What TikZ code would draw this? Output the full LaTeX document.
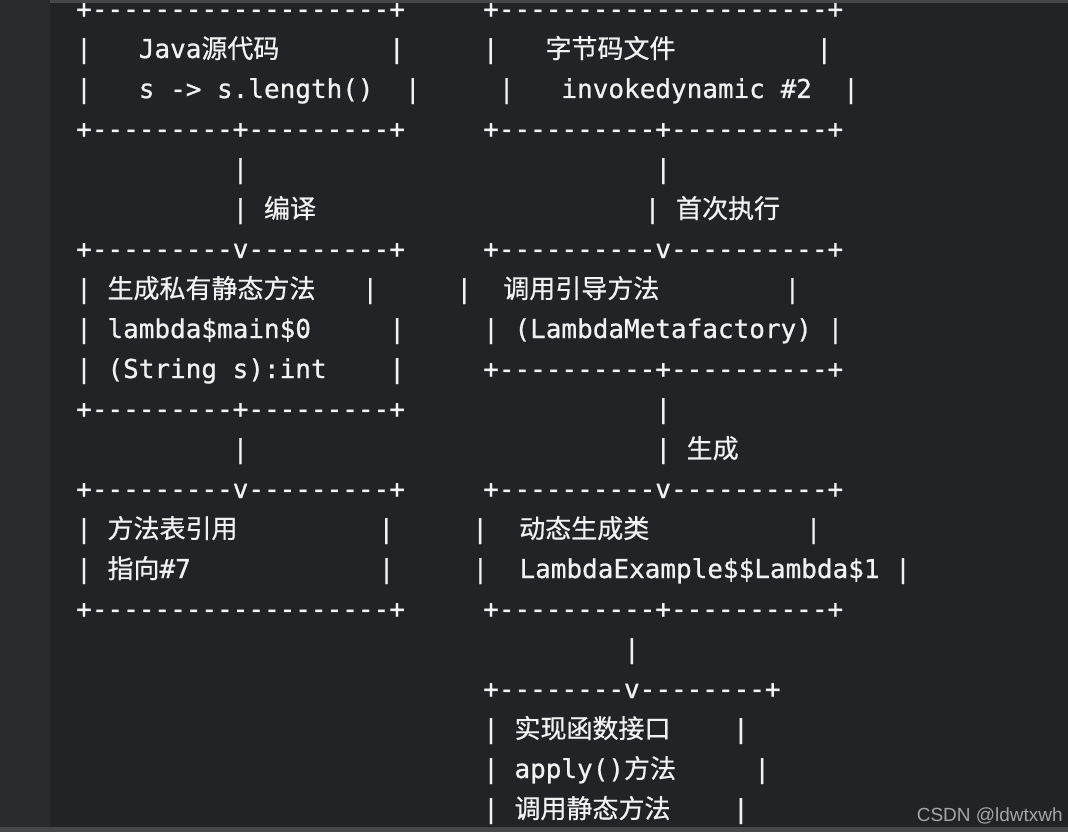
\documentclass[tikz,border=0pt]{standalone}
\usepackage{fontspec}
\setmonofont{DejaVu Sans Mono}[FakeBold=0.8]
\newfontfamily\cjk{Noto Sans CJK SC}[FakeBold=0.6]
\newfontfamily\wmfont{Liberation Sans}
\definecolor{pagebg}{HTML}{222327}
\definecolor{gutterbg}{HTML}{2A2B2F}
\definecolor{edgebar}{HTML}{46474B}
\definecolor{asciitext}{HTML}{F2F2F2}
\definecolor{markgray}{HTML}{A5A5A5}
\newcommand\zh[1]{{\cjk #1}}
\newcommand\gap[1]{\hskip#1\fontdimen2\font\relax}
\tikzset{
	asciirow/.style={
		anchor=base west, inner sep=0pt, text=asciitext,
		font={\ttfamily\fontsize{26}{40}\selectfont}
	},
	watermark/.style={
		anchor=base east, inner sep=0pt, text=markgray,
		font={\wmfont\fontsize{19}{22}\selectfont}
	},
}

\begin{document}
\begin{tikzpicture}[x=1pt, y=-1pt]
\useasboundingbox (0,0) rectangle (1068,832);
% screen background
\fill[pagebg] (0,0) rectangle (1068,832);
\fill[gutterbg] (0,0) rectangle (50,832);
\fill[edgebar] (50,0) rectangle (1068,3);
\fill[edgebar] (0,827) rectangle (1068,832);
% the ascii chart, one node per line
\foreach \rowtext [count=\k from 0] in {
	+-------------------+\gap{5}+---------------------+,
	|\gap{3}Java\zh{源代码}\gap{7}|\gap{5}|\gap{3}\zh{字节码文件}\gap{9}|,
	|\gap{3}s -> s.length()\gap{2}|\gap{5}|\gap{3}invokedynamic \#2\gap{2}|,
	+---------+---------+\gap{5}+----------+----------+,
	\gap{10}|\gap{26}|,
	\gap{10}| \zh{编译}\gap{21}| \zh{首次执行},
	+---------v---------+\gap{5}+----------v----------+,
	| \zh{生成私有静态方法}\gap{3}|\gap{5}|\gap{2}\zh{调用引导方法}\gap{8}|,
	| lambda\$main\$0\gap{5}|\gap{5}| (LambdaMetafactory) |,
	| (String s):int\gap{4}|\gap{5}+----------+----------+,
	+---------+---------+\gap{16}|,
	\gap{10}|\gap{26}| \zh{生成},
	+---------v---------+\gap{5}+----------v----------+,
	| \zh{方法表引用}\gap{9}|\gap{5}|\gap{2}\zh{动态生成类}\gap{10}|,
	| \zh{指向}\#7\gap{12}|\gap{5}|\gap{2}LambdaExample\$\$Lambda\$1 |,
	+-------------------+\gap{5}+----------+----------+,
	\gap{35}|,
	\gap{26}+--------v--------+,
	\gap{26}| \zh{实现函数接口}\gap{4}|,
	\gap{26}| apply()\zh{方法}\gap{5}|,
	\gap{26}| \zh{调用静态方法}\gap{4}|
}
	\node[asciirow] (row\k) at (76,{18+40*\k}) {\rowtext};
\node[watermark] (mark) at (1063,821) {CSDN @ldwtxwh};
\end{tikzpicture}
\end{document}
